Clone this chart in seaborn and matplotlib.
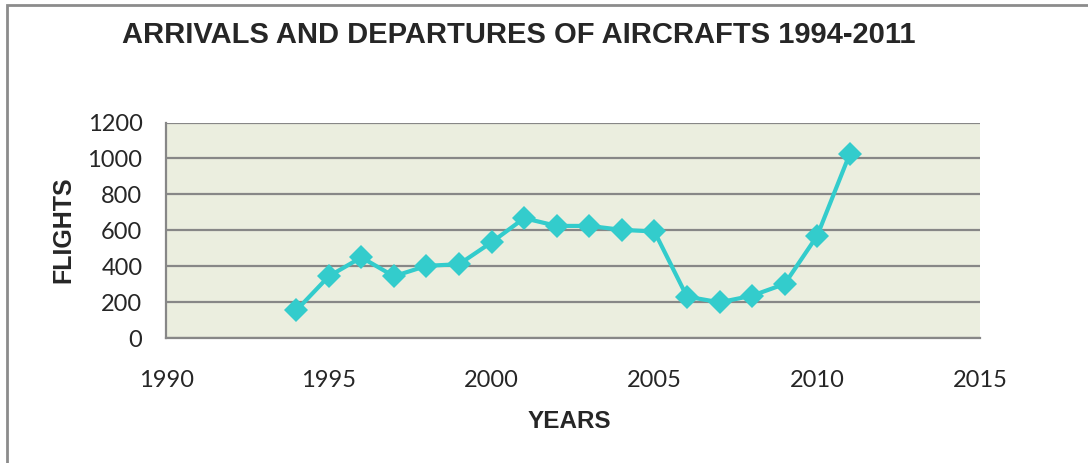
import matplotlib
matplotlib.use('Agg')
import matplotlib.pyplot as plt
import pandas as pd
import seaborn as sns
from matplotlib.patches import Rectangle

# Values
years = [1994, 1995, 1996, 1997, 1998, 1999, 2000, 2001, 2002,
         2003, 2004, 2005, 2006, 2007, 2008, 2009, 2010, 2011]
flights = [155, 345, 450, 345, 403, 412, 534, 668, 625,
           625, 603, 594, 232, 200, 237, 302, 570, 1025]
x_ticks = [1990, 1995, 2000, 2005, 2010, 2015]
y_ticks = [0, 200, 400, 600, 800, 1000, 1200]

df = pd.DataFrame({'YEARS': years, 'FLIGHTS': flights})

sns.set_style('white')
plt.rcParams['font.family'] = ['Lato', 'DejaVu Sans']

fig = plt.figure(figsize=(10.88, 4.63), dpi=100)
ax = fig.add_axes([0.1526, 0.2693, 0.9007 - 0.1526, 0.7354 - 0.2693])

# outer chart border
fig.patches.append(Rectangle((7 / 1088, -0.1), 1.2, 1 - 5 / 463 + 0.1,
                             transform=fig.transFigure, fill=False,
                             edgecolor='#8c8c8c', linewidth=2))

ax.set_facecolor('#ebeedf')
sns.lineplot(data=df, x='YEARS', y='FLIGHTS', ax=ax, color='#33cccc',
             linewidth=3, marker='D', markersize=12.5, markeredgewidth=0)

ax.set_xlim(1990, 2015)
ax.set_ylim(0, 1200)
ax.set_xticks(x_ticks)
ax.set_yticks(y_ticks)
ax.yaxis.grid(True, color='#878787', linewidth=1.6)
ax.set_axisbelow(True)
for s in ['top', 'right']:
    ax.spines[s].set_visible(False)
for s in ['left', 'bottom']:
    ax.spines[s].set_color('#878787')
    ax.spines[s].set_linewidth(1.6)
ax.tick_params(axis='both', length=6, width=1.5, color='#878787',
               labelsize=17, direction='out')
ax.tick_params(axis='x', pad=17)
ax.tick_params(axis='y', pad=11)
ax.set_xlabel('')
ax.set_ylabel('')

fig.text(122 / 1088, 1 - 35 / 463, 'ARRIVALS AND DEPARTURES OF AIRCRAFTS 1994-2011',
         family='Liberation Sans', weight='bold', fontsize=21, va='center', ha='left')
fig.text(569 / 1088, 1 - 421 / 463, 'YEARS', family='Liberation Sans',
         weight='bold', fontsize=17.5, va='center', ha='center')
fig.text(63 / 1088, 1 - 230 / 463, 'FLIGHTS', family='Liberation Sans',
         weight='bold', fontsize=18, va='center', ha='center', rotation=90)

fig.savefig('out.png', dpi=100)
